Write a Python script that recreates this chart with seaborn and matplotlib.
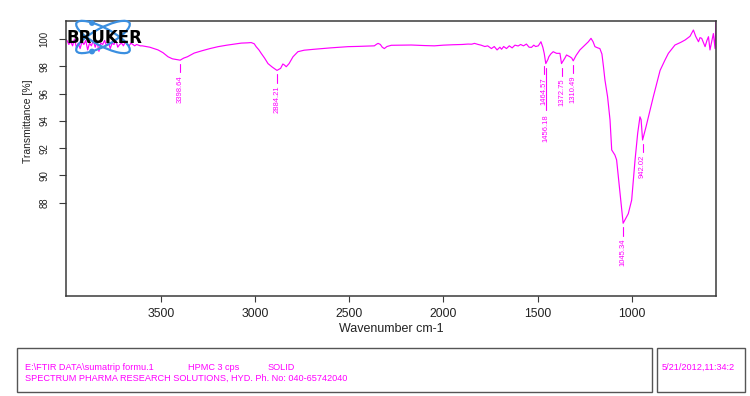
import matplotlib
matplotlib.use("Agg")
import matplotlib.pyplot as plt
import seaborn as sns
import pandas as pd
from matplotlib.patches import Ellipse, Rectangle, Circle

# ---------------- data ----------------
wavenumber = [
    4000, 3990, 3980, 3970, 3960, 3950, 3940, 3930, 3920, 3910, 3900, 3890, 3880, 3870,
    3860, 3850, 3840, 3830, 3820, 3810, 3800, 3790, 3780, 3770, 3760, 3750, 3740, 3730,
    3720, 3710, 3700, 3690, 3680, 3670, 3660, 3650, 3640, 3630, 3620, 3610, 3600,
    3560, 3516, 3490, 3463, 3440, 3420, 3398.64, 3380, 3360, 3324, 3280, 3240, 3197,
    3150, 3100, 3074, 3040, 3021, 3005, 2995, 2980, 2968, 2950, 2932, 2910, 2895,
    2884.21, 2865, 2853, 2845, 2835, 2820, 2799, 2773, 2740, 2686, 2600, 2507, 2450,
    2367, 2355, 2347, 2335, 2325, 2314, 2300, 2277, 2170, 2100, 2048, 2000, 1950, 1900,
    1869, 1850, 1835, 1815, 1800, 1780, 1765, 1745, 1730, 1715, 1700, 1691, 1680, 1665,
    1650, 1635, 1620, 1603, 1590, 1575, 1559, 1545, 1532, 1520, 1510, 1496, 1482, 1472,
    1464.57, 1456.18, 1445, 1440, 1430, 1417, 1399, 1381, 1372.75, 1355, 1346, 1328,
    1318, 1310.49, 1295, 1275, 1248, 1230, 1216, 1205, 1195, 1180, 1169, 1158, 1150,
    1142, 1128, 1115, 1106, 1089, 1080, 1062, 1045.34, 1030, 1018, 1000, 982, 968, 956,
    950, 942.02, 925, 911, 885, 849, 823, 805, 770, 740, 716, 690, 672, 660, 645, 637,
    628, 618, 610, 600, 592, 584, 575, 566, 557, 552,
]
transmittance = [
    99.9, 99.6, 99.8, 99.5, 100.0, 99.4, 99.7, 99.3, 99.8, 99.6, 99.9, 99.2, 99.7, 99.5,
    99.9, 99.4, 99.8, 99.1, 99.7, 99.6, 99.9, 99.5, 99.8, 99.3, 99.7, 99.6, 99.9, 99.4,
    99.6, 99.7, 99.5, 99.8, 99.6, 99.5, 99.7, 99.6, 99.5, 99.6, 99.55, 99.5, 99.5,
    99.4, 99.2, 99.0, 98.7, 98.55, 98.5, 98.45, 98.6, 98.7, 98.97, 99.15, 99.3, 99.44,
    99.55, 99.65, 99.7, 99.72, 99.74, 99.65, 99.44, 99.2, 98.95, 98.6, 98.2, 97.95, 97.8,
    97.7, 97.85, 98.17, 98.1, 97.97, 98.2, 98.7, 99.07, 99.18, 99.25, 99.35, 99.44, 99.46,
    99.5, 99.62, 99.68, 99.6, 99.4, 99.3, 99.45, 99.54, 99.56, 99.52, 99.5, 99.55, 99.58, 99.6,
    99.63, 99.62, 99.68, 99.6, 99.55, 99.45, 99.5, 99.3, 99.45, 99.2, 99.4, 99.25, 99.45, 99.3,
    99.5, 99.35, 99.55, 99.49, 99.6, 99.5, 99.63, 99.4, 99.39, 99.55, 99.45, 99.5, 99.8, 99.4,
    98.95, 98.2, 98.5, 98.7, 98.9, 99.07, 98.95, 98.95, 98.2, 98.6, 98.83, 98.7,
    98.6, 98.4, 98.8, 99.2, 99.56, 99.8, 100.05, 99.8, 99.44, 99.35, 99.3, 98.9, 98.0,
    97.0, 95.77, 94.07, 91.87, 91.5, 91.14, 88.7, 86.5, 86.9, 87.2, 88.2, 91.14, 93.1, 94.3,
    94.1, 92.6, 93.5, 94.3, 95.77, 97.7, 98.46, 98.95, 99.56, 99.75, 99.93, 100.2, 100.66, 100.2, 99.8, 100.1,
    100.05, 99.7, 99.44, 99.9, 100.17, 99.2, 99.8, 100.4, 99.3, 101.6,
]

peak_wn = [3398.64, 2884.21, 1464.57, 1456.18, 1372.75, 1310.49, 1045.34, 942.02]
peak_T = [98.45, 97.7, 98.3, 98.2, 98.2, 98.4, 86.5, 92.6]
peak_text = ["3398.64", "2884.21", "1464.57", "1456.18", "1372.75", "1310.49", "1045.34", "942.02"]

x_ticks = [3500, 3000, 2500, 2000, 1500, 1000]
y_ticks = [88, 90, 92, 94, 96, 98, 100]

footer_path = "E:\\FTIR DATA\\sumatrip formu.1"
footer_sample = "HPMC 3 cps"
footer_state = "SOLID"
footer_lab = "SPECTRUM PHARMA RESEARCH SOLUTIONS, HYD. Ph. No: 040-65742040"
footer_date = "5/21/2012,11:34:2"

# ---------------- styling ----------------
sns.set_theme(style="white")
plt.rcParams['font.family'] = ['Liberation Sans', 'DejaVu Sans']

MAG = "#ff00ff"
AX_COL = "#3a3a3a"

fig = plt.figure(figsize=(7.5, 3.96), dpi=100)
ax = fig.add_axes([66 / 750, 1 - 296 / 396, 650 / 750, 275 / 396])

df = pd.DataFrame({"wn": wavenumber, "T": transmittance})
sns.lineplot(data=df, x="wn", y="T", ax=ax, color=MAG, lw=0.85,
             sort=False, estimator=None)

ax.set_xlim(4005, 552)
ax.set_ylim(81.17, 101.32)
ax.set_xticks(x_ticks)
ax.set_yticks(y_ticks)
ax.set_xticklabels([str(v) for v in x_ticks])
ax.set_yticklabels([str(v) for v in y_ticks], rotation=90, va="center")

for s in ax.spines.values():
    s.set_color(AX_COL)
    s.set_linewidth(1.1)

ax.tick_params(axis="x", bottom=True, direction="out", length=4.5, width=0.8,
               color=AX_COL, labelsize=8.8, pad=4, labelcolor="#222222")
ax.tick_params(axis="y", left=True, direction="out", length=5, width=0.8,
               color=AX_COL, labelsize=6.9, pad=7, labelcolor="#222222")

ax.set_xlabel("Wavenumber cm-1", fontsize=9, labelpad=2, color="#222222")
ax.set_ylabel("Transmittance [%]", fontsize=7.5, color="#222222")
ax.yaxis.set_label_coords(-0.051, 0.635)

# peak labels
label_drop = [0, 0, 0, 1, 0, 0, 0, 0]
for wn, t, txt, drop in zip(peak_wn, peak_T, peak_text, label_drop):
    if drop:
        ax.plot([wn, wn], [t - 0.3, t - 3.4], color=MAG, lw=0.8)
        ax.text(wn, t - 3.7, txt, rotation=90, ha="center", va="top",
                fontsize=5.5, color=MAG)
    else:
        ax.plot([wn, wn], [t - 0.3, t - 0.9], color=MAG, lw=0.8)
        ax.text(wn, t - 1.1, txt, rotation=90, ha="center", va="top",
                fontsize=5.5, color=MAG)

# ---------------- decorations in pixel space ----------------
ov = fig.add_axes([0, 0, 1, 1], zorder=5)
ov.set_xlim(0, 750)
ov.set_ylim(396, 0)
ov.axis("off")
ov.patch.set_alpha(0)

# Bruker logo
LOGO = "#3b8fe0"
ov.add_patch(Ellipse((103, 37), 60, 18, angle=28, fill=False, ec=LOGO, lw=1.6))
ov.add_patch(Ellipse((103, 37), 60, 18, angle=-28, fill=False, ec=LOGO, lw=1.6))
ov.add_patch(Circle((92, 23), 2.2, color=LOGO))
ov.add_patch(Circle((92, 51.5), 2.2, color=LOGO))
ov.text(104, 38, "BRUKER", fontsize=12, fontweight="bold", color="black",
        ha="center", va="center", family="DejaVu Sans")

# footer boxes
ov.add_patch(Rectangle((17, 348), 635, 44, fill=False, ec="#555555", lw=1))
ov.add_patch(Rectangle((657, 348), 88, 44, fill=False, ec="#555555", lw=1))
ov.text(25, 367, footer_path, fontsize=6.6, color=MAG, va="center", ha="left")
ov.text(188, 367, footer_sample, fontsize=6.6, color=MAG, va="center", ha="left")
ov.text(268, 367, footer_state, fontsize=6.6, color=MAG, va="center", ha="left")
ov.text(25, 378, footer_lab, fontsize=6.6, color=MAG, va="center", ha="left")
ov.text(662, 367, footer_date, fontsize=6.6, color=MAG, va="center", ha="left",
        clip_on=True)

fig.savefig("out.png", dpi=100)
